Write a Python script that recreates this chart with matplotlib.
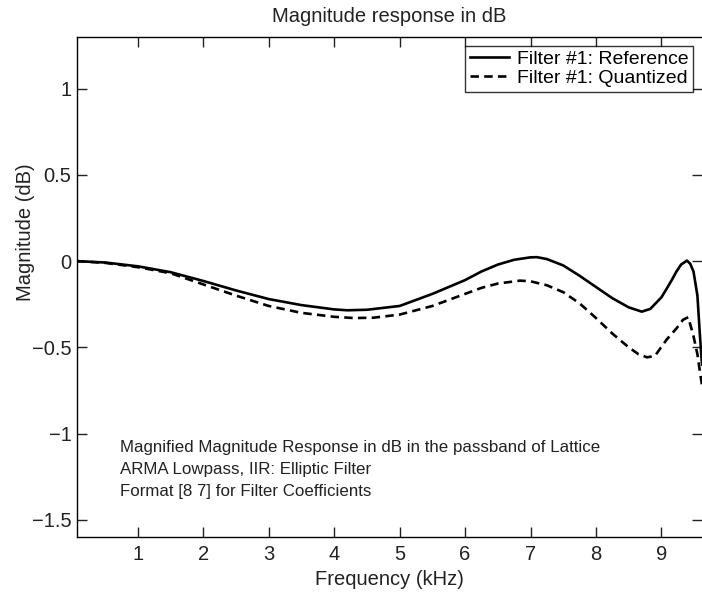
import matplotlib
matplotlib.use('Agg')
import matplotlib.pyplot as plt

plt.rcParams['font.family'] = ['Liberation Sans', 'DejaVu Sans']

# frequency points (kHz) and magnitude (dB)
f_ref = [0.07, 0.5, 1.0, 1.5, 2.0, 2.5, 3.0, 3.5, 4.0, 4.2, 4.5, 5.0, 5.5, 6.0,
         6.25, 6.5, 6.75, 7.0, 7.1, 7.25, 7.5, 7.75, 8.0, 8.25, 8.5, 8.7, 8.83,
         9.0, 9.08, 9.15, 9.23, 9.3, 9.39, 9.44, 9.49, 9.55, 9.59, 9.62]
mag_ref = [0.0, -0.008, -0.03, -0.064, -0.115, -0.17, -0.22, -0.255, -0.28,
           -0.285, -0.282, -0.26, -0.19, -0.11, -0.06, -0.02, 0.008, 0.022,
           0.023, 0.012, -0.025, -0.085, -0.15, -0.215, -0.268, -0.293, -0.277,
           -0.21, -0.16, -0.115, -0.06, -0.02, 0.003, -0.015, -0.06, -0.2,
           -0.44, -0.6]

f_q = [0.07, 0.5, 1.0, 1.5, 2.0, 2.5, 3.0, 3.5, 4.0, 4.3, 4.6, 5.0, 5.5, 6.0,
       6.25, 6.5, 6.84, 7.0, 7.25, 7.5, 7.75, 8.0, 8.25, 8.5, 8.65, 8.78, 8.9,
       9.08, 9.23, 9.33, 9.41, 9.49, 9.55, 9.59, 9.62]
mag_q = [0.0, -0.01, -0.035, -0.07, -0.135, -0.2, -0.26, -0.3, -0.323, -0.33,
         -0.328, -0.31, -0.26, -0.19, -0.155, -0.13, -0.113, -0.117, -0.14,
         -0.18, -0.245, -0.33, -0.42, -0.5, -0.54, -0.558, -0.55, -0.455,
         -0.39, -0.34, -0.325, -0.435, -0.54, -0.645, -0.72]

xticks = [1, 2, 3, 4, 5, 6, 7, 8, 9]
yticks = [-1.5, -1, -0.5, 0, 0.5, 1]
ytick_labels = ['\u22121.5', '\u22121', '\u22120.5', '0', '0.5', '1']

fig = plt.figure(figsize=(7.02, 5.94), dpi=100)
ax = fig.add_axes([77/702, 1 - 537/594, 1 - 77/702, (537 - 37)/594])

ax.plot(f_ref, mag_ref, color='black', lw=1.9, label='Filter #1: Reference')
ax.plot(f_q, mag_q, color='black', lw=1.9, ls=(0, (3.2, 2.0)), label='Filter #1: Quantized')

ax.set_xlim(0.07, 9.62)
ax.set_ylim(-1.6, 1.3)
ax.set_xticks(xticks)
ax.set_yticks(yticks)
ax.set_yticklabels(ytick_labels)
ax.tick_params(direction='in', length=7, width=1, labelsize=14.5, top=True, right=True,
               colors='#222222')
ax.tick_params(axis='y', pad=4)
ax.tick_params(axis='x', pad=6)
ax.spines['right'].set_visible(False)
for s in ['left', 'bottom', 'top']:
    ax.spines[s].set_linewidth(1)

ax.set_title('Magnitude response in dB', fontsize=14.5, pad=11, color='#222222')
ax.set_xlabel('Frequency (kHz)', fontsize=14.5, color='#222222', labelpad=4)
ax.set_ylabel('Magnitude (dB)', fontsize=14.5, color='#222222')
ax.yaxis.set_label_coords(-0.067, 0.61)

ax.text(0.73, -1.04, 'Magnified Magnitude Response in dB in the passband of Lattice\n'
        'ARMA Lowpass, IIR: Elliptic Filter\n'
        'Format [8 7] for Filter Coefficients',
        fontsize=12.2, va='top', ha='left', linespacing=1.55, color='#222222')

leg = ax.legend(loc='upper right', fontsize=14, frameon=True, fancybox=False,
                edgecolor='black', handlelength=2.0, borderpad=0.25,
                labelspacing=0.05, handletextpad=0.4, borderaxespad=0.45)
leg.get_frame().set_linewidth(1)

fig.savefig('out.png', dpi=100)
